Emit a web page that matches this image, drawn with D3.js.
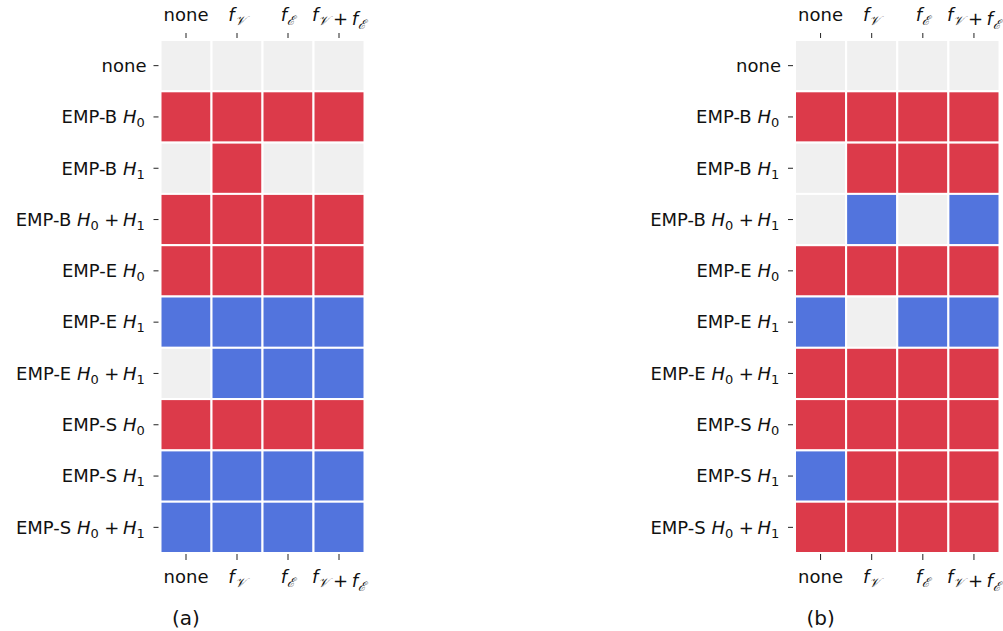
<!DOCTYPE html>
<html><head><meta charset="utf-8">
<script src="https://cdn.jsdelivr.net/npm/d3@7"></script>
<style>
body{margin:0;background:#fff;}
text{font-family:"DejaVu Sans",sans-serif;}
</style></head>
<body>
<svg id="chart" width="1003" height="631"></svg>
<script>
const columns = ["none", "fV", "fE", "fV+fE"];
const rows = ["none", "EMP-B H0", "EMP-B H1", "EMP-B H0+H1", "EMP-E H0", "EMP-E H1", "EMP-E H0+H1", "EMP-S H0", "EMP-S H1", "EMP-S H0+H1"];
// -1 = blue, 0 = gray, 1 = red
const valuesA = [
  [0,0,0,0],
  [1,1,1,1],
  [0,1,0,0],
  [1,1,1,1],
  [1,1,1,1],
  [-1,-1,-1,-1],
  [0,-1,-1,-1],
  [1,1,1,1],
  [-1,-1,-1,-1],
  [-1,-1,-1,-1]
];
const valuesB = [
  [0,0,0,0],
  [1,1,1,1],
  [0,1,1,1],
  [0,-1,0,-1],
  [1,1,1,1],
  [-1,0,-1,-1],
  [1,1,1,1],
  [1,1,1,1],
  [-1,1,1,1],
  [1,1,1,1]
];
const captions = ["(a)", "(b)"];

const svg = d3.select("#chart");
const color = d3.scaleOrdinal().domain([-1,0,1]).range(["#5274dd","#f0f0f0","#dc3a4a"]);
const FS = "18px", SUB = "13px";

function colLabel(sel, c){
  sel.text(null);
  function f(sub){
    sel.append("tspan").attr("font-style","italic").text("f");
    sel.append("tspan").attr("font-family","DejaVu Serif").attr("font-style","italic").attr("font-size",SUB).attr("dy","4").text(sub);
    sel.append("tspan").attr("dy","-4").text("");
  }
  if(c==="none"){ sel.text("none"); }
  else if(c==="fV"){ f("𝒱"); }
  else if(c==="fE"){ f("ℰ"); }
  else { f("𝒱"); sel.append("tspan").text("\u2009+\u2009"); f("ℰ"); }
}
function rowLabel(sel, r){
  sel.text(null);
  if(r==="none"){ sel.text("none"); return; }
  const parts = r.split(" ");
  sel.append("tspan").text(parts[0]+" ");
  const hs = parts[1].split("+");
  hs.forEach((h,i)=>{
    if(i>0) sel.append("tspan").text("\u2009+\u2009");
    sel.append("tspan").attr("font-style","italic").text("H");
    sel.append("tspan").attr("font-size",SUB).attr("dy","4").text(h.slice(1));
    sel.append("tspan").attr("dy","-4").text("\u200a");
  });
}

function panel(x0, x1, values, caption){
  const y0 = 40, y1 = 553;
  const x = d3.scaleBand().domain(columns).range([x0, x1]);
  const y = d3.scaleBand().domain(rows).range([y0, y1]);
  const g = svg.append("g");
  const cells = [];
  rows.forEach((r,i)=>columns.forEach((c,j)=>cells.push({r,c,v:values[i][j]})));
  g.selectAll("rect").data(cells).join("rect")
    .attr("x", d=>x(d.c)).attr("y", d=>y(d.r))
    .attr("width", x.bandwidth()).attr("height", y.bandwidth())
    .attr("fill", d=>color(d.v))
    .attr("stroke","#fff").attr("stroke-width",2);

  const axT = d3.axisTop(x).tickSize(5).tickPadding(10).tickFormat("");
  const gT = g.append("g").attr("transform",`translate(0,${y0-2})`).call(axT);
  const axB = d3.axisBottom(x).tickSize(6).tickPadding(8).tickFormat("");
  const gB = g.append("g").attr("transform",`translate(0,${y1+1})`).call(axB);
  const axL = d3.axisLeft(y).tickSize(5).tickPadding(6).tickFormat("");
  const gL = g.append("g").attr("transform",`translate(${x0-2},0)`).call(axL);
  [gT,gB,gL].forEach(a=>{ a.select(".domain").remove(); a.selectAll(".tick line").attr("stroke","#222").attr("stroke-width",1); });

  gT.selectAll(".tick").append("text").attr("fill","#111").attr("font-size",FS)
    .attr("text-anchor","middle").attr("y",-17).each(function(d){ colLabel(d3.select(this), d); });
  gB.selectAll(".tick").append("text").attr("fill","#111").attr("font-size",FS)
    .attr("text-anchor","middle").attr("y",29).each(function(d){ colLabel(d3.select(this), d); });
  gL.selectAll(".tick").append("text").attr("fill","#111").attr("font-size",FS)
    .attr("text-anchor","end").attr("x",-12).attr("dy","0.35em").each(function(d){ rowLabel(d3.select(this), d); });

  svg.append("text").attr("x", x("none")+x.bandwidth()/2).attr("y", 625)
    .attr("text-anchor","middle").attr("font-family","Liberation Serif, Times New Roman, serif")
    .attr("font-size","20px").attr("fill","#111").text(caption);
}
panel(160.5, 364.5, valuesA, captions[0]);
panel(795, 999.5, valuesB, captions[1]);
</script>
</body></html>
